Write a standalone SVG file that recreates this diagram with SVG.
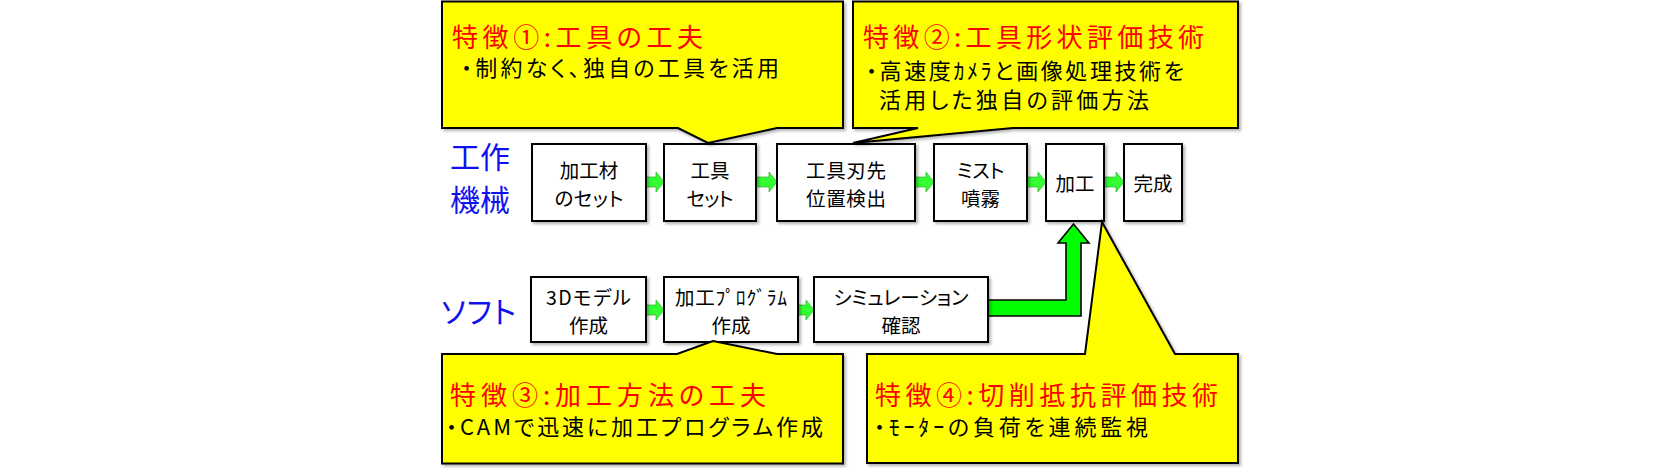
<svg xmlns="http://www.w3.org/2000/svg" width="1680" height="472" viewBox="0 0 1680 472">
<defs>
<filter id="sh" x="-10%" y="-10%" width="130%" height="140%">
<feDropShadow dx="2" dy="2" stdDeviation="1.5" flood-color="#000" flood-opacity="0.3"/>
</filter>
</defs>
<style>
text{font-family:"Noto Sans CJK JP","Noto Sans",sans-serif;font-feature-settings:"palt";}
.box{fill:#fff;stroke:#000;stroke-width:2;filter:url(#sh);}
.bt{font-size:19.5px;fill:#000;text-anchor:middle;}
.lbl{font-size:30px;fill:#1010EE;}
.call{fill:#FFFF00;stroke:#000;stroke-width:2;filter:url(#sh);}
.title{font-size:26px;fill:#FF0000;}
.sub{font-size:22px;fill:#000;}
.arr{fill:#33FF33;stroke:#1E9E1E;stroke-width:0.6;}
.big{fill:#00FF00;stroke:#000;stroke-width:1.6;}
</style>
<rect width="1680" height="472" fill="#fff"/>

<g id="connectors">
<polygon class="arr" points="646,177 656,177 656,172 664,182 656,192 656,187 646,187"/>
<polygon class="arr" points="756,177 769,177 769,172 777,182 769,192 769,187 756,187"/>
<polygon class="arr" points="915,177 926,177 926,172 934,182 926,192 926,187 915,187"/>
<polygon class="arr" points="1027,177 1038,177 1038,172 1046,182 1038,192 1038,187 1027,187"/>
<polygon class="arr" points="1104,177 1116,177 1116,172 1124,182 1116,192 1116,187 1104,187"/>
<polygon class="arr" points="646,305 656,305 656,300 664,310 656,320 656,315 646,315"/>
<polygon class="arr" points="798,305 806,305 806,300 814,310 806,320 806,315 798,315"/>
<path class="big" d="M988,300 H1066 V243 H1058 L1073.5,224 L1089,243 H1081 V316 H988 Z"/>
</g>

<g id="label-machine">
<text class="lbl" text-anchor="middle"><tspan x="480" y="168">工作</tspan><tspan x="480" y="211">機械</tspan></text>
</g>
<g id="label-soft">
<text class="lbl" x="441" y="323" textLength="75" lengthAdjust="spacing">ソフト</text>
</g>

<g id="node-material">
<rect class="box" x="532" y="144" width="114" height="77"/>
<text class="bt"><tspan x="589" y="178">加工材</tspan><tspan x="589" y="206" textLength="69" lengthAdjust="spacing">のセット</tspan></text>
</g>
<g id="node-toolset">
<rect class="box" x="664" y="144" width="92" height="77"/>
<text class="bt"><tspan x="710" y="178">工具</tspan><tspan x="710" y="206" textLength="47" lengthAdjust="spacing">セット</tspan></text>
</g>
<g id="node-edge">
<rect class="box" x="777" y="144" width="138" height="77"/>
<text class="bt"><tspan x="846" y="178" textLength="80" lengthAdjust="spacing">工具刃先</tspan><tspan x="846" y="206" textLength="80" lengthAdjust="spacing">位置検出</tspan></text>
</g>
<g id="node-mist">
<rect class="box" x="934" y="144" width="93" height="77"/>
<text class="bt"><tspan x="980.5" y="178" textLength="48" lengthAdjust="spacing">ミスト</tspan><tspan x="980.5" y="206">噴霧</tspan></text>
</g>
<g id="node-machining">
<rect class="box" x="1046" y="144" width="58" height="77"/>
<text class="bt" x="1075" y="191">加工</text>
</g>
<g id="node-complete">
<rect class="box" x="1124" y="144" width="58" height="77"/>
<text class="bt" x="1153" y="191">完成</text>
</g>
<g id="node-model">
<rect class="box" x="531" y="277" width="115" height="65"/>
<text class="bt"><tspan x="588.5" y="305" textLength="85" lengthAdjust="spacing">3Dモデル</tspan><tspan x="588.5" y="332.5">作成</tspan></text>
</g>
<g id="node-program">
<rect class="box" x="664" y="277" width="134" height="65"/>
<text class="bt"><tspan x="731" y="305" textLength="112" lengthAdjust="spacing">加工ﾌﾟﾛｸﾞﾗﾑ</tspan><tspan x="731" y="332.5">作成</tspan></text>
</g>
<g id="node-simulation">
<rect class="box" x="814" y="277" width="174" height="65"/>
<text class="bt"><tspan x="901" y="305" textLength="135" lengthAdjust="spacing">シミュレーション</tspan><tspan x="901" y="332.5">確認</tspan></text>
</g>

<g id="callout-1">
<path class="call" d="M442,1.5 H843 V128 H777 L708,143 L678,128 H442 Z"/>
<text><tspan class="title" x="452" y="46.5" textLength="251" lengthAdjust="spacing">特徴①:工具の工夫</tspan><tspan class="sub" x="461" y="76" textLength="318" lengthAdjust="spacing">・制約なく、独自の工具を活用</tspan></text>
</g>
<g id="callout-2">
<path class="call" d="M853,1.5 H1238 V128 H1013 L853,143 L918,128 H853 Z"/>
<text><tspan class="title" x="863" y="46.5" textLength="341" lengthAdjust="spacing">特徴②:工具形状評価技術</tspan><tspan class="sub" x="866" y="78.5" textLength="318" lengthAdjust="spacing">・高速度ｶﾒﾗと画像処理技術を</tspan><tspan class="sub" x="879" y="108" textLength="270" lengthAdjust="spacing">活用した独自の評価方法</tspan></text>
</g>
<g id="callout-3">
<path class="call" d="M442,354 H677 L713,341 L777,354 H843 V463.5 H442 Z"/>
<text><tspan class="title" x="450" y="404.5" textLength="316" lengthAdjust="spacing">特徴③:加工方法の工夫</tspan><tspan class="sub" x="446" y="435" textLength="377" lengthAdjust="spacing">・CAMで迅速に加工プログラム作成</tspan></text>
</g>
<g id="callout-4">
<path class="call" d="M867,354 H1085 L1102,222 L1175,354 H1238 V463 H867 Z"/>
<text><tspan class="title" x="875" y="404.5" textLength="343" lengthAdjust="spacing">特徴④:切削抵抗評価技術</tspan><tspan class="sub" x="874" y="435" textLength="274" lengthAdjust="spacing">・ﾓｰﾀｰの負荷を連続監視</tspan></text>
</g>
</svg>
